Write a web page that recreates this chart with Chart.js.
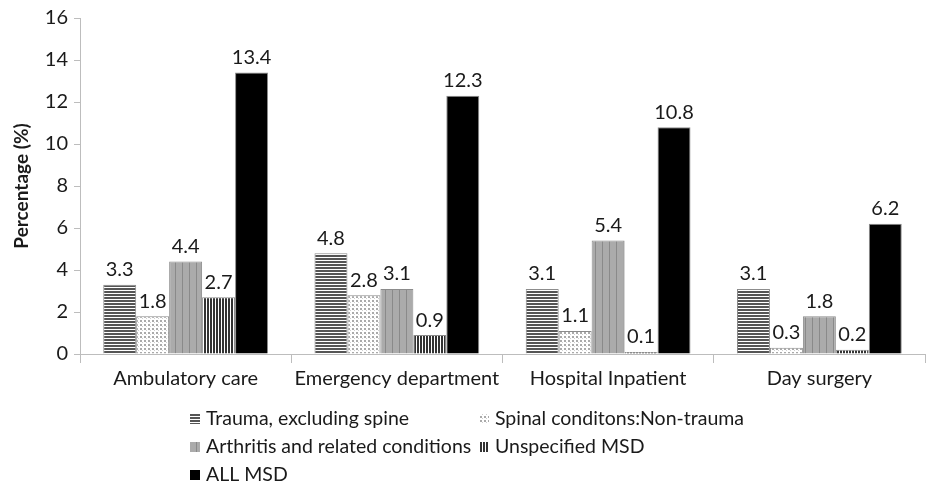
<!DOCTYPE html>
<html>
<head>
    <meta charset='utf-8'>
    <title>MSD percentage</title>
    <style>
        body { margin: 0; background: #fff; }
        #wrap { width: 927px; height: 490px; }
    </style>
</head>
<body>
    <div id="wrap">
        <canvas id="myChart"></canvas>
    </div>

    <script src="https://cdn.jsdelivr.net/npm/chart.js"></script>

    <script>
const categories = ['Ambulatory care', 'Emergency department', 'Hospital Inpatient', 'Day surgery'];
const seriesNames = ['Trauma, excluding spine', 'Spinal conditons:Non-trauma', 'Arthritis and related conditions', 'Unspecified MSD', 'ALL MSD'];
const trauma = [3.3, 4.8, 3.1, 3.1];
const spinal = [1.8, 2.8, 1.1, 0.3];
const arthritis = [4.4, 3.1, 5.4, 1.8];
const unspecified = [2.7, 0.9, 0.1, 0.2];
const allMsd = [13.4, 12.3, 10.8, 6.2];
const yTicks = [0, 2, 4, 6, 8, 10, 12, 14, 16];

const FONT = 'Lato, "Open Sans", sans-serif';

// little canvases used as fill patterns
function makePattern(kind) {
    const c = document.createElement('canvas');
    const g = c.getContext('2d');
    if (kind === 'hlines') {
        c.width = 4; c.height = 3;
        g.fillStyle = '#fff'; g.fillRect(0, 0, 4, 3);
        g.fillStyle = '#555'; g.fillRect(0, 0, 4, 2);
    } else if (kind === 'dots') {
        c.width = 4; c.height = 4;
        g.fillStyle = '#fff'; g.fillRect(0, 0, 4, 4);
        g.fillStyle = '#aaa'; g.fillRect(0, 0, 2, 2);
        g.fillStyle = '#d0d0d0'; g.fillRect(2, 2, 1, 1);
    } else if (kind === 'grey') {
        c.width = 7; c.height = 4;
        g.fillStyle = '#ababab'; g.fillRect(0, 0, 7, 4);
        g.fillStyle = '#8a8a8a'; g.fillRect(0, 0, 1, 4);
    } else if (kind === 'vlines') {
        c.width = 3; c.height = 4;
        g.fillStyle = '#fff'; g.fillRect(0, 0, 3, 4);
        g.fillStyle = '#333'; g.fillRect(0, 0, 2, 4);
    }
    return g.createPattern(c, 'repeat');
}

const fills = [makePattern('hlines'), makePattern('dots'), makePattern('grey'), makePattern('vlines'), '#000'];
const values = [trauma, spinal, arthritis, unspecified, allMsd];

const data = {
    labels: categories,
    datasets: seriesNames.map((name, i) => ({
        label: name,
        data: values[i],
        backgroundColor: fills[i],
        borderColor: '#8c8c8c',
        borderWidth: 1,
        barPercentage: 1.0,
        categoryPercentage: 0.78
    }))
};

// value labels over each bar
const valueLabels = {
    id: 'valueLabels',
    afterDatasetsDraw(chart) {
        const ctx = chart.ctx;
        ctx.save();
        ctx.font = '20px ' + FONT;
        ctx.fillStyle = '#1a1a1a';
        ctx.textAlign = 'center';
        ctx.textBaseline = 'bottom';
        chart.data.datasets.forEach((ds, i) => {
            chart.getDatasetMeta(i).data.forEach((bar, j) => {
                ctx.fillText(ds.data[j].toFixed(1), bar.x, bar.y - 5);
            });
        });
        ctx.restore();
    }
};

// legend in two columns, like the original
const gridLegend = {
    id: 'gridLegend',
    afterDraw(chart) {
        const ctx = chart.ctx;
        ctx.save();
        ctx.font = '19.5px ' + FONT;
        ctx.textBaseline = 'middle';
        chart.data.datasets.forEach((ds, i) => {
            const col = i % 2, row = Math.floor(i / 2);
            const x = 190 + col * 289;
            const y = 419 + row * 28;
            ctx.fillStyle = ds.backgroundColor;
            ctx.fillRect(x, y - 5, 10, 10);
            ctx.fillStyle = '#1a1a1a';
            ctx.fillText(ds.label, x + 16, y);
        });
        ctx.restore();
    }
};

new Chart(document.getElementById('myChart'), {
    type: 'bar',
    data: data,
    plugins: [valueLabels, gridLegend],
    options: {
        responsive: true,
        maintainAspectRatio: false,
        animation: false,
        layout: { padding: { top: 12, right: 2, left: 8, bottom: 98 } },
        plugins: {
            legend: { display: false },
            tooltip: { enabled: false }
        },
        scales: {
            x: {
                grid: { display: true, drawOnChartArea: false, offset: true, color: '#bdbdbd', tickLength: 9 },
                border: { color: '#bdbdbd' },
                ticks: { color: '#1a1a1a', font: { family: FONT, size: 20 }, padding: 4 },
                afterFit: (s) => { s.height = 38; }
            },
            y: {
                min: 0,
                max: 16,
                afterBuildTicks: (s) => { s.ticks = yTicks.map(v => ({ value: v })); },
                grid: { display: true, drawOnChartArea: false, color: '#bdbdbd', tickLength: 6 },
                border: { color: '#bdbdbd' },
                ticks: { color: '#1a1a1a', font: { family: FONT, size: 20 }, padding: 6 },
                title: { display: true, text: 'Percentage (%)', color: '#1a1a1a', font: { family: FONT, size: 19, weight: 'bold' }, padding: 2 },
                afterFit: (s) => { s.width = 72; }
            }
        }
    }
});
    </script>
</body>
</html>
